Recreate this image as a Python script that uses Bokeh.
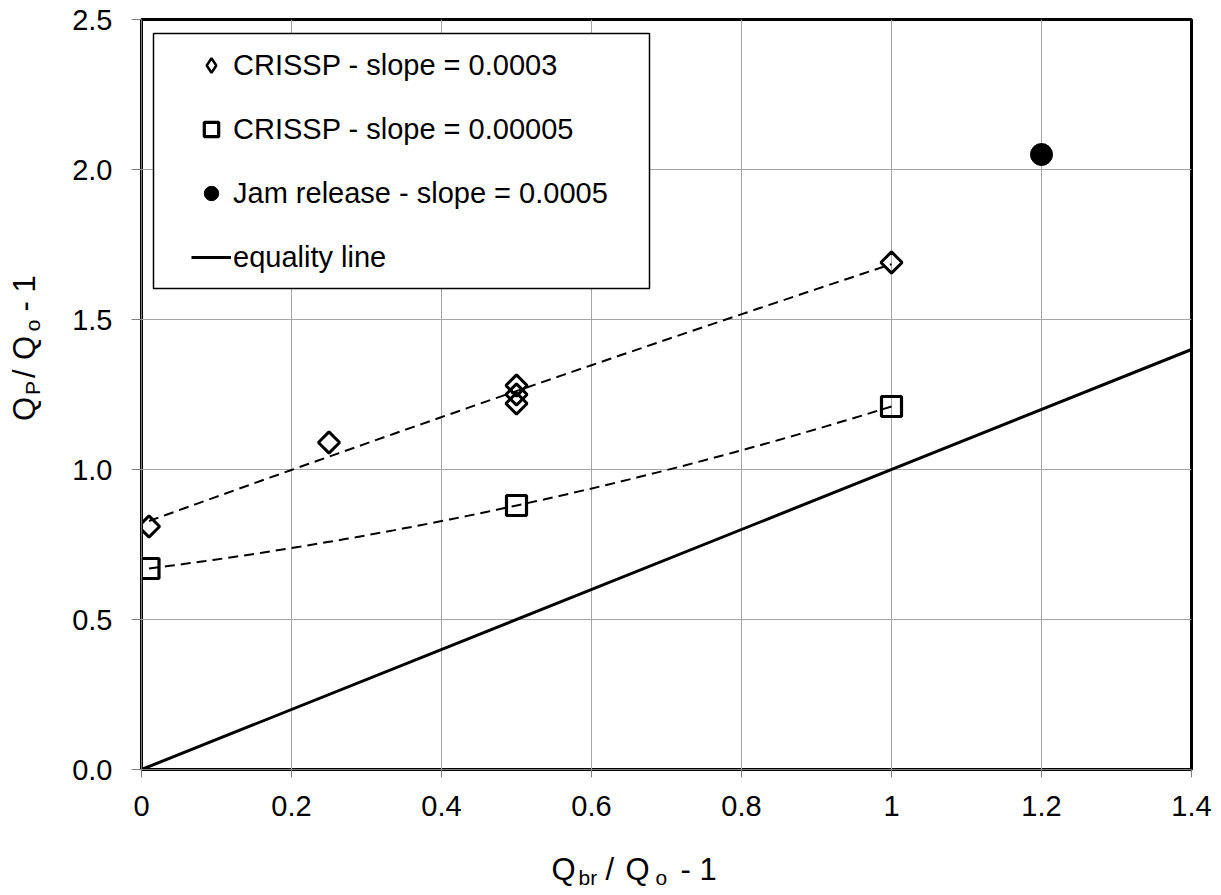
import numpy as np
from bokeh.plotting import figure
from bokeh.layouts import row, column
from bokeh.models import Range1d, FixedTicker, Legend, LegendItem, BoxAnnotation
from bokeh.core.properties import value
from bokeh.embed import file_html
from bokeh.resources import INLINE

# ---------------- data ----------------
diamond_x = [0.01, 0.25, 0.5, 0.5, 0.5, 1.0]
diamond_y = [0.81, 1.09, 1.28, 1.25, 1.22, 1.69]
square_x = [0.01, 0.5, 1.0]
square_y = [0.67, 0.88, 1.21]
jam_x = [1.2]
jam_y = [2.05]
eq_x = [0.0, 1.4]
eq_y = [0.0, 1.4]

legend_labels = ["CRISSP - slope = 0.0003", "CRISSP - slope = 0.00005",
                 "Jam release - slope = 0.0005", "equality line"]

x_ticks = [0, 0.2, 0.4, 0.6, 0.8, 1.0, 1.2, 1.4]
x_tick_labels = ["0", "0.2", "0.4", "0.6", "0.8", "1", "1.2", "1.4"]
y_ticks = [0.0, 0.5, 1.0, 1.5, 2.0, 2.5]
y_tick_labels = ["0.0", "0.5", "1.0", "1.5", "2.0", "2.5"]

# quadratic trendlines (least-squares fit of each series, like a spreadsheet trendline)
def trend(xs, ys, n=80):
    c = np.polyfit(xs, ys, 2)
    xx = np.linspace(min(xs), max(xs), n)
    return xx, np.polyval(c, xx)

tdx, tdy = trend(diamond_x, diamond_y)
tsx, tsy = trend(square_x, square_y)

FONT = "Liberation Sans"

# ---------------- layout sizes ----------------
YT_W = 60            # y-title strip width
MAIN_W = 1161
MAIN_H = 835
XT_H = 60            # x-title strip height
TOTAL_W = YT_W + MAIN_W

# ---------------- main figure ----------------
p = figure(width=MAIN_W, height=MAIN_H, output_backend="svg", toolbar_location=None,
           x_range=Range1d(0, 1.4), y_range=Range1d(0, 2.5),
           min_border_left=141 - YT_W, min_border_right=30, min_border_top=19,
           min_border_bottom=66)
p.background_fill_color = "white"
p.border_fill_color = "white"
p.outline_line_color = "black"
p.outline_line_width = 3

for ax, ticks, labels in ((p.xaxis, x_ticks, x_tick_labels), (p.yaxis, y_ticks, y_tick_labels)):
    ax.ticker = FixedTicker(ticks=ticks)
    ax.major_label_overrides = dict(zip(ticks, labels))
    ax.major_label_text_font = FONT
    ax.major_label_text_font_size = "29px"
    ax.major_label_text_color = "black"
    ax.axis_line_color = "#808080"
    ax.axis_line_width = 1
    ax.major_tick_line_color = "#808080"
    ax.major_tick_in = 0
    ax.minor_tick_line_color = None
p.xaxis.major_tick_out = 8
p.xaxis.major_label_standoff = 18
p.yaxis.major_tick_out = 10
p.yaxis.major_label_standoff = 19

p.xgrid.grid_line_color = "#a6a6a6"
p.ygrid.grid_line_color = "#a6a6a6"

# ---------------- glyphs ----------------
r_eq = p.line(eq_x, eq_y, line_color="black", line_width=3)
p.scatter(diamond_x, diamond_y, marker="square", angle=np.pi / 4, size=15,
          fill_color=None, line_color="black", line_width=3)
r_sq = p.scatter(square_x, square_y, marker="square", size=20,
                 fill_color=None, line_color="black", line_width=3.2)
r_jam = p.scatter(jam_x, jam_y, marker="circle", size=22,
                  fill_color="black", line_color="black", line_width=1)
p.line(tdx, tdy, line_color="black", line_width=2, line_dash="10 6")
p.line(tsx, tsy, line_color="black", line_width=2, line_dash="10 6")
# legend symbol for the diamond series (same data, hidden in the plot area)
r_dia_leg = p.scatter(diamond_x, diamond_y, marker="diamond", fill_color=None,
                      line_color="black", line_width=2.5, visible=False)

# ---------------- legend ----------------
FX, FY = 141.0, 769.0  # frame origin in reference pixels (layout helpers)
def dx(px):
    return (px - FX) / 750.0
def dy(py):
    return (FY - py) / 300.0

box = BoxAnnotation(left=dx(153), right=dx(649), top=dy(33), bottom=dy(288),
                    fill_color="white", fill_alpha=1.0,
                    line_color="black", line_alpha=1.0, line_width=1.5)
p.add_layout(box)

legend = Legend(items=[LegendItem(label=legend_labels[0], renderers=[r_dia_leg]),
                       LegendItem(label=legend_labels[1], renderers=[r_sq]),
                       LegendItem(label=legend_labels[2], renderers=[r_jam]),
                       LegendItem(label=legend_labels[3], renderers=[r_eq])],
                location=(40, 484), padding=10, margin=0, spacing=28,
                glyph_width=40, glyph_height=36, label_height=36, label_standoff=2,
                label_text_font=FONT, label_text_font_size="29px",
                label_text_color="black", click_policy="none",
                inactive_fill_alpha=0,
                border_line_alpha=0, background_fill_alpha=0)
p.add_layout(legend)

# ---------------- axis-title strips ----------------
def strip(w, h):
    f = figure(width=w, height=h, output_backend="svg", toolbar_location=None,
               x_range=Range1d(0, w), y_range=Range1d(0, h),
               x_axis_type=None, y_axis_type=None, min_border=0)
    f.outline_line_color = None
    f.background_fill_color = "white"
    f.border_fill_color = "white"
    return f

def txt(f, xs, ys, texts, size, angle=0.0):
    f.text(x=xs, y=ys, text=texts, text_font=value(FONT), text_font_size=value(size),
           text_color="black", text_align="left", text_baseline="alphabetic", angle=angle)

# y title: Q_P / Q_o - 1  (rotated, reads bottom to top)
yt = strip(YT_W, MAIN_H)
A = np.pi / 2
txt(yt, [24, 24, 24, 24], [MAIN_H - 447, MAIN_H - 399, MAIN_H - 379, MAIN_H - 325],
    ["Q", "/", "Q", "- 1"], "31px", A)
txt(yt, [32, 32], [MAIN_H - 418, MAIN_H - 347], ["P", "o"], "21px", A)

# x title: Q_br / Q_o - 1
xt = strip(TOTAL_W, XT_H)
H = MAIN_H + XT_H
txt(xt, [551, 605, 625, 680], [H - 869] * 4, ["Q", "/", "Q", "- 1"], "31px")
txt(xt, [578, 655], [H - 877] * 2, ["br", "o"], "21px")

layout = column(row(yt, p, spacing=0), xt, spacing=0)

open("out.html", "w").write(file_html(layout, INLINE))
